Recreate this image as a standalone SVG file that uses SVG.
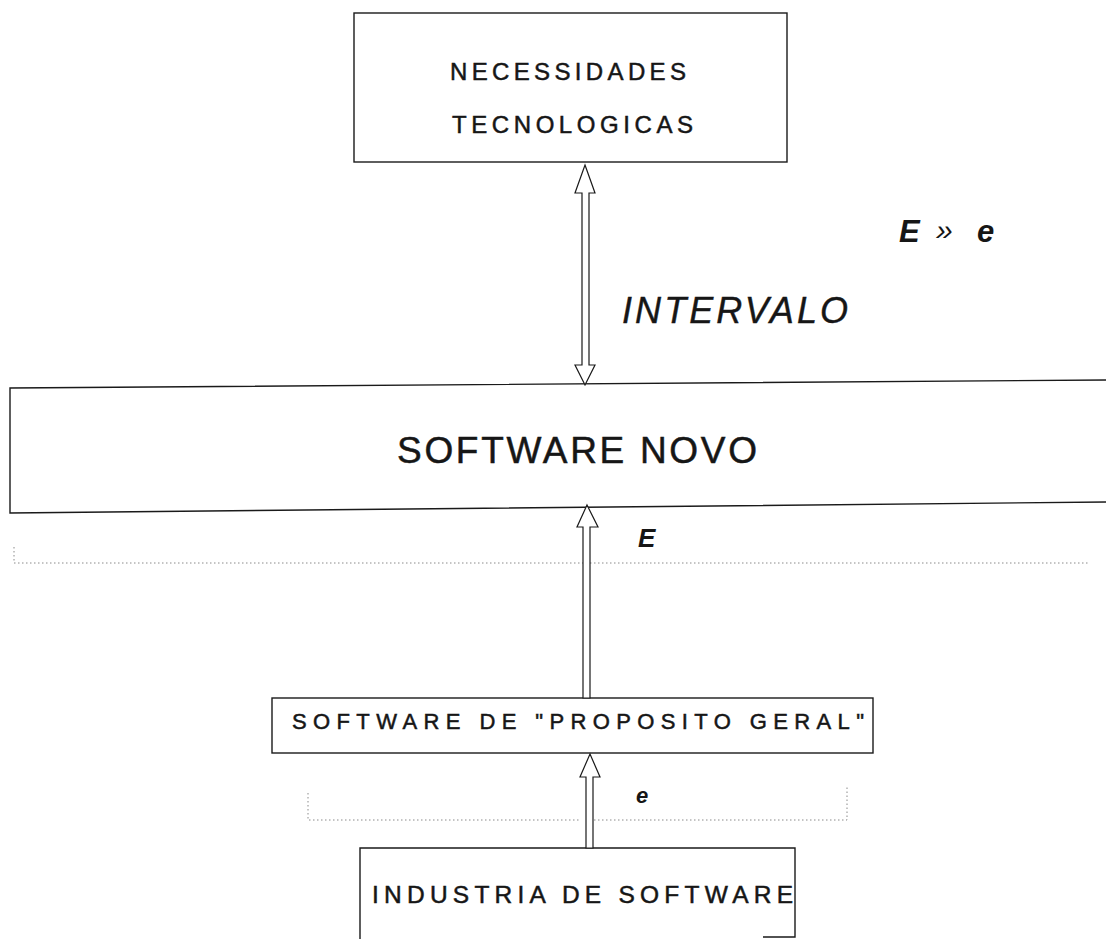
<svg xmlns="http://www.w3.org/2000/svg" width="1106" height="939" viewBox="0 0 1106 939">
  <style>
    .box { fill: none; stroke: #1a1a1a; stroke-width: 1.4; }
    .lbl { font-family: "Liberation Sans", Arial, sans-serif; fill: #161616; stroke: #161616; stroke-width: 0.5; }
    .it { font-family: "Liberation Sans", Arial, sans-serif; font-style: italic; font-weight: bold; fill: #161616; }
    .itl { font-family: "Liberation Sans", Arial, sans-serif; font-style: italic; fill: #161616; stroke: #161616; stroke-width: 0.4; }
    .arrow { fill: #ffffff; stroke: #1a1a1a; stroke-width: 1.2; stroke-linejoin: miter; }
    .dot { fill: none; stroke: #8a8a8a; stroke-width: 1; stroke-dasharray: 1.5 2.5; }
  </style>

  <rect width="1106" height="939" fill="#ffffff"/>

  <!-- top node -->
  <g id="necessidades">
    <rect class="box" x="354" y="13" width="433" height="149"/>
    <text class="lbl" x="450" y="80" font-size="24" textLength="236">NECESSIDADES</text>
    <text class="lbl" x="452" y="133" font-size="24" textLength="241">TECNOLOGICAS</text>
  </g>

  <!-- wide band, open on the right -->
  <g id="software-novo">
    <path class="box" d="M1106 380 L10 388 L10 513 L1106 502"/>
    <text class="lbl" x="397" y="463" font-size="37" stroke-width="0.2" textLength="360">SOFTWARE NOVO</text>
  </g>

  <g id="software-proposito">
    <rect class="box" x="272" y="698" width="601" height="55"/>
    <text class="lbl" x="292" y="729" font-size="22" textLength="572">SOFTWARE DE "PROPOSITO GERAL"</text>
  </g>

  <g id="industria">
    <path class="box" d="M360 939 L360 848 L795 848 L795 937 L763 937"/>
    <text class="lbl" x="372" y="903" font-size="24.5" textLength="421">INDUSTRIA DE SOFTWARE</text>
  </g>

  <!-- dotted level markers -->
  <g id="levels">
    <path class="dot" d="M14 547 L14 563 L1090 563"/>
    <path class="dot" d="M308 793 L308 820 L580 820 M594 820 L847 820 L847 787"/>
  </g>

  <!-- hollow arrows -->
  <g id="connectors">
    <polygon class="arrow" points="585,165 595,193 589,193 589,365 595,365 585,385 575,365 582,365 582,193 575,193"/>
    <polygon class="arrow" points="587,505 598,527 590,527 590,698 583,698 583,527 577,527"/>
    <polygon class="arrow" points="590,754 600,777 593,777 593,848 586,848 586,777 580,777"/>
  </g>

  <!-- labels -->
  <g id="labels">
    <text class="itl" x="622" y="323" font-size="36" textLength="226">INTERVALO</text>
    <text class="it" x="899" y="242" font-size="31"><tspan>E</tspan><tspan x="936" font-size="30" dy="-2" font-weight="normal">»</tspan><tspan x="977" dy="2">e</tspan></text>
    <text class="it" x="638" y="547" font-size="26">E</text>
    <text class="it" x="636" y="803" font-size="22">e</text>
  </g>
</svg>
